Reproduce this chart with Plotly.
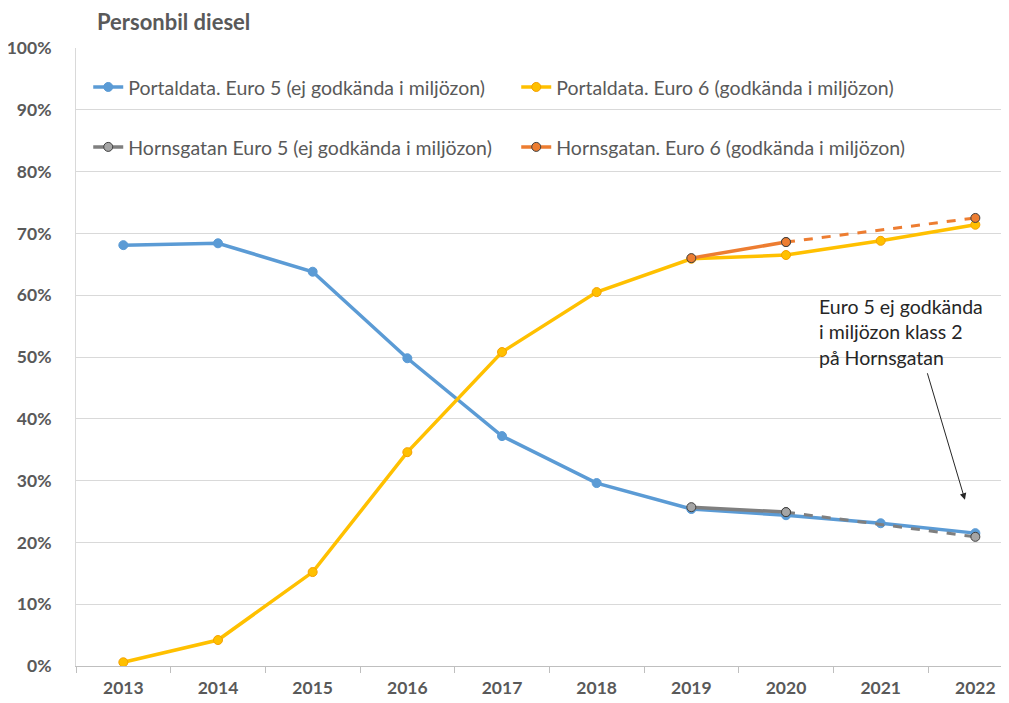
import plotly.graph_objects as go

years = ['2013', '2014', '2015', '2016', '2017', '2018', '2019', '2020', '2021', '2022']

portal_euro5 = [68.1, 68.4, 63.8, 49.8, 37.2, 29.6, 25.4, 24.4, 23.1, 21.5]
portal_euro6 = [0.6, 4.2, 15.2, 34.6, 50.8, 60.5, 65.9, 66.5, 68.8, 71.4]

# Hornsgatan: measured 2019-2020 (solid), projected to 2022 (dashed)
horns_years = ['2019', '2020']
horns_euro5 = [25.7, 24.9]
horns_euro6 = [66.0, 68.6]
proj_years = ['2020', '2022']
proj_euro5 = [24.9, 20.9]
proj_euro6 = [68.6, 72.5]

BLUE = '#5B9BD5'
YELLOW = '#FFC000'
GREY = '#A5A5A5'
ORANGE = '#ED7D31'
TXT = '#595959'
FONT = 'Lato'

fig = go.Figure()

fig.add_trace(go.Scatter(x=years, y=portal_euro5, mode='lines+markers',
                         name='Portaldata. Euro 5 (ej godkända i miljözon)',
                         line=dict(color=BLUE, width=3.5),
                         marker=dict(size=9, color=BLUE, line=dict(color=BLUE, width=1)),
                         legend='legend'))
fig.add_trace(go.Scatter(x=years, y=portal_euro6, mode='lines+markers',
                         name='Portaldata. Euro 6 (godkända i miljözon)',
                         line=dict(color=YELLOW, width=3.5),
                         marker=dict(size=9, color=YELLOW, line=dict(color='#F5A000', width=1)),
                         legend='legend'))

# dashed projections first so solid parts sit on top
fig.add_trace(go.Scatter(x=proj_years, y=proj_euro5, mode='lines+markers', showlegend=False,
                         line=dict(color='#7F7F7F', width=3, dash='dash'),
                         marker=dict(size=9, color=GREY, line=dict(color='#404040', width=1))))
fig.add_trace(go.Scatter(x=proj_years, y=proj_euro6, mode='lines+markers', showlegend=False,
                         line=dict(color=ORANGE, width=3, dash='dash'),
                         marker=dict(size=9, color=ORANGE, line=dict(color='#404040', width=1))))

fig.add_trace(go.Scatter(x=horns_years, y=horns_euro5, mode='lines+markers',
                         name='Hornsgatan Euro 5 (ej godkända i miljözon)',
                         line=dict(color='#7F7F7F', width=3.5),
                         marker=dict(size=9, color=GREY, line=dict(color='#404040', width=1)),
                         legend='legend2'))
fig.add_trace(go.Scatter(x=horns_years, y=horns_euro6, mode='lines+markers',
                         name='Hornsgatan. Euro 6 (godkända i miljözon)',
                         line=dict(color=ORANGE, width=3.5),
                         marker=dict(size=9, color=ORANGE, line=dict(color='#404040', width=1)),
                         legend='legend2'))

legend_style = dict(orientation='h', xanchor='left', yanchor='top',
                    entrywidth=383, entrywidthmode='pixels',
                    font=dict(family=FONT, size=19.5, color=TXT),
                    bgcolor='rgba(0,0,0,0)', itemwidth=30)

fig.update_layout(
    width=1009, height=703,
    margin=dict(l=68, r=0, t=40, b=45),
    plot_bgcolor='white', paper_bgcolor='white',
    font=dict(family=FONT, color=TXT),
    title=dict(text='<b>Personbil diesel</b>', x=89 / 1009, xanchor='left',
               y=1 - 14 / 703, yanchor='middle', font=dict(family=FONT, size=22, color=TXT)),
    legend=dict(x=0.013, y=0.968, **legend_style),
    legend2=dict(x=0.013, y=0.871, **legend_style),
    xaxis=dict(type='category', range=[-0.5, 9.44], tickson='boundaries',
               ticks='outside', ticklen=6, tickcolor='#BFBFBF',
               showline=True, linecolor='#BFBFBF', linewidth=1, showgrid=False,
               ticklabelstandoff=6,
               tickfont=dict(family=FONT, size=17.5, color=TXT, weight='bold')),
    yaxis=dict(range=[0, 100], dtick=10, ticksuffix='%',
               showline=True, linecolor='#D9D9D9', gridcolor='#D9D9D9', gridwidth=1,
               zeroline=False, ticklabelstandoff=20,
               tickfont=dict(family=FONT, size=17.5, color=TXT, weight='bold')),
)

fig.add_annotation(x=8.89, y=26.9, xref='x', yref='y', ax=-38, ay=-128,
                   showarrow=True, arrowhead=2, arrowsize=1.3, arrowwidth=1,
                   arrowcolor='#262626', text='')
fig.add_annotation(x=7.33, y=60.4, xref='x', yref='y', xanchor='left', yanchor='top',
                   showarrow=False, align='left',
                   text='Euro 5 ej godkända<br>i miljözon klass 2<br>på Hornsgatan',
                   font=dict(family=FONT, size=19.5, color='#262626'))

fig.write_html('out.html')
